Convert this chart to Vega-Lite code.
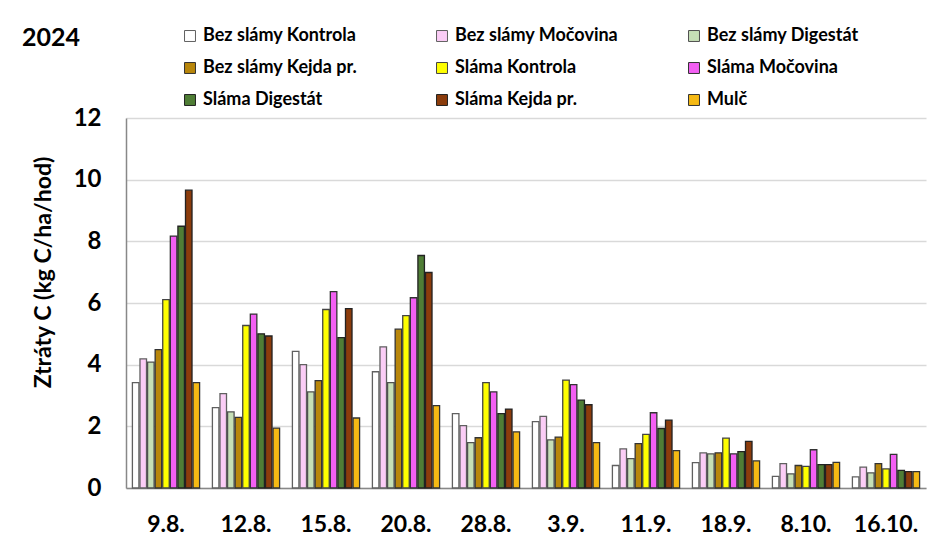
{
  "$schema": "https://vega.github.io/schema/vega-lite/v6.json",
  "width": 800,
  "height": 370,
  "autosize": "none",
  "padding": {"left": 126, "top": 118, "right": 7, "bottom": 72},
  "background": "white",
  "config": {
    "font": "Lato",
    "view": {"stroke": null}
  },
  "title": {
    "text": "2024",
    "anchor": "start",
    "frame": "group",
    "dx": -104,
    "offset": 0,
    "dy": 24,
    "fontSize": 25,
    "fontWeight": "bold",
    "font": "Lato",
    "color": "#000"
  },
  "data": {
    "values": [
      {"date": "9.8.", "series": "Bez slámy Kontrola", "value": 3.42},
      {"date": "9.8.", "series": "Bez slámy Močovina", "value": 4.19},
      {"date": "9.8.", "series": "Bez slámy Digestát", "value": 4.08},
      {"date": "9.8.", "series": "Bez slámy Kejda pr.", "value": 4.49},
      {"date": "9.8.", "series": "Sláma Kontrola", "value": 6.11},
      {"date": "9.8.", "series": "Sláma Močovina", "value": 8.17},
      {"date": "9.8.", "series": "Sláma Digestát", "value": 8.49},
      {"date": "9.8.", "series": "Sláma Kejda pr.", "value": 9.66},
      {"date": "9.8.", "series": "Mulč", "value": 3.42},
      {"date": "12.8.", "series": "Bez slámy Kontrola", "value": 2.61},
      {"date": "12.8.", "series": "Bez slámy Močovina", "value": 3.06},
      {"date": "12.8.", "series": "Bez slámy Digestát", "value": 2.47},
      {"date": "12.8.", "series": "Bez slámy Kejda pr.", "value": 2.29},
      {"date": "12.8.", "series": "Sláma Kontrola", "value": 5.27},
      {"date": "12.8.", "series": "Sláma Močovina", "value": 5.64},
      {"date": "12.8.", "series": "Sláma Digestát", "value": 5.0},
      {"date": "12.8.", "series": "Sláma Kejda pr.", "value": 4.93},
      {"date": "12.8.", "series": "Mulč", "value": 1.94},
      {"date": "15.8.", "series": "Bez slámy Kontrola", "value": 4.43},
      {"date": "15.8.", "series": "Bez slámy Močovina", "value": 4.0},
      {"date": "15.8.", "series": "Bez slámy Digestát", "value": 3.12},
      {"date": "15.8.", "series": "Bez slámy Kejda pr.", "value": 3.48},
      {"date": "15.8.", "series": "Sláma Kontrola", "value": 5.79},
      {"date": "15.8.", "series": "Sláma Močovina", "value": 6.37},
      {"date": "15.8.", "series": "Sláma Digestát", "value": 4.88},
      {"date": "15.8.", "series": "Sláma Kejda pr.", "value": 5.82},
      {"date": "15.8.", "series": "Mulč", "value": 2.27},
      {"date": "20.8.", "series": "Bez slámy Kontrola", "value": 3.77},
      {"date": "20.8.", "series": "Bez slámy Močovina", "value": 4.58},
      {"date": "20.8.", "series": "Bez slámy Digestát", "value": 3.42},
      {"date": "20.8.", "series": "Bez slámy Kejda pr.", "value": 5.15},
      {"date": "20.8.", "series": "Sláma Kontrola", "value": 5.59},
      {"date": "20.8.", "series": "Sláma Močovina", "value": 6.17},
      {"date": "20.8.", "series": "Sláma Digestát", "value": 7.54},
      {"date": "20.8.", "series": "Sláma Kejda pr.", "value": 6.99},
      {"date": "20.8.", "series": "Mulč", "value": 2.67},
      {"date": "28.8.", "series": "Bez slámy Kontrola", "value": 2.41},
      {"date": "28.8.", "series": "Bez slámy Močovina", "value": 2.02},
      {"date": "28.8.", "series": "Bez slámy Digestát", "value": 1.47},
      {"date": "28.8.", "series": "Bez slámy Kejda pr.", "value": 1.63},
      {"date": "28.8.", "series": "Sláma Kontrola", "value": 3.42},
      {"date": "28.8.", "series": "Sláma Močovina", "value": 3.12},
      {"date": "28.8.", "series": "Sláma Digestát", "value": 2.41},
      {"date": "28.8.", "series": "Sláma Kejda pr.", "value": 2.56},
      {"date": "28.8.", "series": "Mulč", "value": 1.82},
      {"date": "3.9.", "series": "Bez slámy Kontrola", "value": 2.15},
      {"date": "3.9.", "series": "Bez slámy Močovina", "value": 2.32},
      {"date": "3.9.", "series": "Bez slámy Digestát", "value": 1.56},
      {"date": "3.9.", "series": "Bez slámy Kejda pr.", "value": 1.65},
      {"date": "3.9.", "series": "Sláma Kontrola", "value": 3.5},
      {"date": "3.9.", "series": "Sláma Močovina", "value": 3.35},
      {"date": "3.9.", "series": "Sláma Digestát", "value": 2.85},
      {"date": "3.9.", "series": "Sláma Kejda pr.", "value": 2.7},
      {"date": "3.9.", "series": "Mulč", "value": 1.47},
      {"date": "11.9.", "series": "Bez slámy Kontrola", "value": 0.73},
      {"date": "11.9.", "series": "Bez slámy Močovina", "value": 1.27},
      {"date": "11.9.", "series": "Bez slámy Digestát", "value": 0.95},
      {"date": "11.9.", "series": "Bez slámy Kejda pr.", "value": 1.44},
      {"date": "11.9.", "series": "Sláma Kontrola", "value": 1.74},
      {"date": "11.9.", "series": "Sláma Močovina", "value": 2.44},
      {"date": "11.9.", "series": "Sláma Digestát", "value": 1.93},
      {"date": "11.9.", "series": "Sláma Kejda pr.", "value": 2.2},
      {"date": "11.9.", "series": "Mulč", "value": 1.21},
      {"date": "18.9.", "series": "Bez slámy Kontrola", "value": 0.82},
      {"date": "18.9.", "series": "Bez slámy Močovina", "value": 1.14},
      {"date": "18.9.", "series": "Bez slámy Digestát", "value": 1.11},
      {"date": "18.9.", "series": "Bez slámy Kejda pr.", "value": 1.14},
      {"date": "18.9.", "series": "Sláma Kontrola", "value": 1.62},
      {"date": "18.9.", "series": "Sláma Močovina", "value": 1.11},
      {"date": "18.9.", "series": "Sláma Digestát", "value": 1.18},
      {"date": "18.9.", "series": "Sláma Kejda pr.", "value": 1.51},
      {"date": "18.9.", "series": "Mulč", "value": 0.88},
      {"date": "8.10.", "series": "Bez slámy Kontrola", "value": 0.38},
      {"date": "8.10.", "series": "Bez slámy Močovina", "value": 0.79},
      {"date": "8.10.", "series": "Bez slámy Digestát", "value": 0.46},
      {"date": "8.10.", "series": "Bez slámy Kejda pr.", "value": 0.73},
      {"date": "8.10.", "series": "Sláma Kontrola", "value": 0.7},
      {"date": "8.10.", "series": "Sláma Močovina", "value": 1.24},
      {"date": "8.10.", "series": "Sláma Digestát", "value": 0.76},
      {"date": "8.10.", "series": "Sláma Kejda pr.", "value": 0.76},
      {"date": "8.10.", "series": "Mulč", "value": 0.83},
      {"date": "16.10.", "series": "Bez slámy Kontrola", "value": 0.36},
      {"date": "16.10.", "series": "Bez slámy Močovina", "value": 0.68},
      {"date": "16.10.", "series": "Bez slámy Digestát", "value": 0.49},
      {"date": "16.10.", "series": "Bez slámy Kejda pr.", "value": 0.79},
      {"date": "16.10.", "series": "Sláma Kontrola", "value": 0.62},
      {"date": "16.10.", "series": "Sláma Močovina", "value": 1.09},
      {"date": "16.10.", "series": "Sláma Digestát", "value": 0.57},
      {"date": "16.10.", "series": "Sláma Kejda pr.", "value": 0.53},
      {"date": "16.10.", "series": "Mulč", "value": 0.53}
    ]
  },
  "mark": {"type": "bar", "strokeWidth": 1.3},
  "encoding": {
    "x": {
      "field": "date",
      "type": "nominal",
      "sort": ["9.8.", "12.8.", "15.8.", "20.8.", "28.8.", "3.9.", "11.9.", "18.9.", "8.10.", "16.10."],
      "scale": {"paddingInner": 0.16, "paddingOuter": 0.08},
      "axis": {
        "title": null,
        "labelAngle": 0,
        "labelFontSize": 23,
        "labelFontWeight": "bold",
        "labelColor": "#000",
        "labelPadding": 25,
        "ticks": false,
        "domainColor": "#888888",
        "domainWidth": 1.5
      }
    },
    "xOffset": {
      "field": "series",
      "type": "nominal",
      "sort": ["Bez slámy Kontrola", "Bez slámy Močovina", "Bez slámy Digestát", "Bez slámy Kejda pr.", "Sláma Kontrola", "Sláma Močovina", "Sláma Digestát", "Sláma Kejda pr.", "Mulč"],
      "scale": {"paddingInner": 0.14, "paddingOuter": 0}
    },
    "y": {
      "field": "value",
      "type": "quantitative",
      "scale": {"domain": [0, 12], "nice": false},
      "axis": {
        "title": "Ztráty C (kg C/ha/hod)",
        "titleFontSize": 23,
        "titleFontWeight": "bold",
        "titleColor": "#000",
        "titleX": -83,
        "titleY": 154,
        "titleAngle": -90,
        "titleBaseline": "middle",
        "titleAlign": "center",
        "values": [0, 2, 4, 6, 8, 10, 12],
        "labelFontSize": 24,
        "labelFontWeight": "bold",
        "labelColor": "#000",
        "labelPadding": 25,
        "ticks": false,
        "domainColor": "#888888",
        "domainWidth": 1.5,
        "gridColor": "#d9d9d9",
        "gridWidth": 1.5
      }
    },
    "color": {
      "field": "series",
      "type": "nominal",
      "sort": ["Bez slámy Kontrola", "Bez slámy Močovina", "Bez slámy Digestát", "Bez slámy Kejda pr.", "Sláma Kontrola", "Sláma Močovina", "Sláma Digestát", "Sláma Kejda pr.", "Mulč"],
      "scale": {
        "domain": ["Bez slámy Kontrola", "Bez slámy Močovina", "Bez slámy Digestát", "Bez slámy Kejda pr.", "Sláma Kontrola", "Sláma Močovina", "Sláma Digestát", "Sláma Kejda pr.", "Mulč"],
        "range": ["#ffffff", "#fbcdf6", "#c6dfb6", "#b8860b", "#ffff00", "#f35ff3", "#4f7d35", "#8b3c0c", "#f5b914"]
      },
      "legend": {
        "title": null,
        "orient": "none",
        "legendX": 55,
        "legendY": -91,
        "direction": "horizontal",
        "columns": 3,
        "gridAlign": "all",
        "columnPadding": 66,
        "rowPadding": 14,
        "symbolType": "square",
        "symbolSize": 120,
        "symbolStrokeColor": "#333333",
        "symbolStrokeWidth": 1,
        "symbolOpacity": 1,
        "labelFontSize": 18,
        "labelFontWeight": "bold",
        "labelColor": "#000",
        "labelFont": "Lato",
        "labelOffset": 4,
        "labelLimit": 300
      }
    },
    "stroke": {
      "field": "series",
      "type": "nominal",
      "scale": {
        "domain": ["Bez slámy Kontrola", "Bez slámy Močovina", "Bez slámy Digestát", "Bez slámy Kejda pr.", "Sláma Kontrola", "Sláma Močovina", "Sláma Digestát", "Sláma Kejda pr.", "Mulč"],
        "range": ["#606060", "#606060", "#505050", "#333333", "#444444", "#333333", "#222222", "#222222", "#333333"]
      },
      "legend": null
    }
  }
}
